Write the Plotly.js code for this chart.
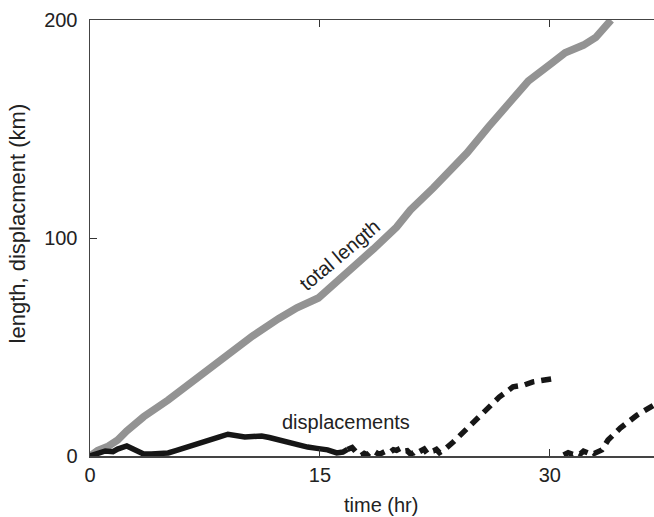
<!DOCTYPE html>
<html>
<head>
<meta charset="utf-8">
<script src="https://cdn.plot.ly/plotly-3.0.1.min.js"></script>
<style>html,body{margin:0;padding:0;background:#fff;}#chart{width:654px;height:517px;}</style>
</head>
<body>
<div id="chart"></div>
<script>
// total length (km) vs time (hr)
const lengthTime = [0, 0.5, 1.2, 1.8, 2.4, 3.5, 5.1, 7.0, 9.0, 10.6, 12.3, 13.5, 14.9, 15.8, 17.0, 18.5, 20.0, 20.9, 22.4, 23.5, 24.6, 26.0, 27.3, 28.6, 30.1, 31.0, 32.2, 33.0, 34.0];
const lengthKm   = [0, 2.5, 4.5, 7.3, 11.5, 18, 25.7, 36, 46, 55, 63, 68, 72.5, 78, 85, 95, 105, 112.8, 123, 131, 139, 151, 162, 172, 180, 185, 188.5, 192, 200];

// displacement (km) - solid part
const dispTimeA = [0, 0.5, 1.0, 1.5, 1.8, 2.4, 2.9, 3.5, 4.0, 4.5, 5.1, 5.6, 6.2, 6.8, 7.3, 7.8, 8.4, 9.0, 9.5, 10.1, 10.6, 11.2, 11.7, 12.3, 12.8, 13.4, 14.2, 14.8, 15.5, 16.1, 16.5, 16.8];
const dispKmA   = [0, 1.2, 2.3, 2.0, 3.2, 4.6, 2.8, 0.9, 0.9, 1.0, 1.4, 2.5, 3.7, 5.5, 6.4, 7.5, 8.7, 10, 9.3, 8.7, 8.9, 9.2, 8.5, 7.3, 6.4, 5.5, 4.1, 3.5, 2.8, 1.4, 1.8, 3.0];

// displacement (km) - dashed parts
const dispTimeB = [16.8, 17.1, 17.4, 17.7, 17.9, 18.1, 18.3, 18.5, 18.8, 19.0, 19.3, 19.6, 19.8, 20.0, 20.3, 20.5, 20.7, 20.9, 21.1, 21.3, 21.5, 21.8, 22.0, 22.1, 22.4, 22.6, 22.8, 23.1, 23.7, 24.8, 25.8, 26.7, 27.6, 28.3, 28.9, 29.6, 30.2, 30.5];
const dispKmB   = [3.0, 3.9, 1.5, 0.2, 1.2, 0.6, 1.9, 2.3, 1.0, 1.2, 2.2, 1.8, 2.9, 2.6, 3.7, 2.2, 2.4, 1.0, 1.4, 2.6, 2.0, 3.2, 1.2, 1.8, 2.3, 3.0, 1.5, 2.8, 6.4, 14.2, 21, 27, 31.7, 32.5, 34, 35, 35.8, 35.8];
const dispTimeC = [30.9, 31.2, 31.5, 31.8, 32.0, 32.2, 32.5, 32.7, 32.9, 33.1, 33.4, 33.8, 34.6, 35.7, 36.8];
const dispKmC   = [0.5, 1.5, 0.8, 1.8, 1.0, 2.2, 1.4, 2.3, 1.2, 1.8, 2.8, 7.3, 12.8, 18.8, 23.4];

const xTicks = [0, 15, 30];
const yTicks = [0, 100, 200];

const font = {family: 'Liberation Sans, Arial, sans-serif', size: 20, color: '#222'};
const yTitleFont = {family: 'Liberation Sans, Arial, sans-serif', size: 22, color: '#222'};

const traces = [
  {x: lengthTime, y: lengthKm, mode: 'lines', line: {color: '#939393', width: 7.5}, hoverinfo: 'skip'},
  {x: dispTimeA, y: dispKmA, mode: 'lines', line: {color: '#161616', width: 5.5}, hoverinfo: 'skip'},
  {x: dispTimeB, y: dispKmB, mode: 'lines', line: {color: '#161616', width: 5.5, dash: '10px,7px'}, hoverinfo: 'skip'},
  {x: dispTimeC, y: dispKmC, mode: 'lines', line: {color: '#161616', width: 5.5, dash: '10px,7px'}, hoverinfo: 'skip'}
];

const layout = {
  width: 654, height: 517,
  margin: {l: 90, r: 0, t: 20, b: 61},
  paper_bgcolor: '#fff', plot_bgcolor: '#fff',
  showlegend: false,
  font: font,
  xaxis: {
    range: [0, 36.8], tickvals: xTicks, ticktext: xTicks.map(String),
    ticks: 'inside', ticklen: 7, tickwidth: 1, tickcolor: '#333',
    showline: true, linecolor: '#444', linewidth: 1.5, mirror: 'ticks',
    showgrid: false, zeroline: false, tickfont: font
  },
  yaxis: {
    range: [0, 200], tickvals: yTicks, ticktext: yTicks.map(String),
    ticks: 'inside', ticklen: 7, tickwidth: 1, tickcolor: '#333',
    showline: true, linecolor: '#444', linewidth: 1.5, mirror: false,
    showgrid: false, zeroline: false, tickfont: font, ticklabelstandoff: 7
  },
  annotations: [
    {text: 'total length', x: 16.3, y: 92, xref: 'x', yref: 'y', showarrow: false, textangle: -40, font: font, xanchor: 'center', yanchor: 'middle'},
    {text: 'displacements', x: 16.7, y: 15.6, xref: 'x', yref: 'y', showarrow: false, font: font, xanchor: 'center', yanchor: 'middle'},
    {text: 'length, displacment (km)', xref: 'paper', yref: 'paper', x: -0.129, y: 0.534, showarrow: false, textangle: -90, font: yTitleFont, xanchor: 'center', yanchor: 'middle'},
    {text: 'time (hr)', xref: 'paper', yref: 'paper', x: 0.516, y: -0.112, showarrow: false, font: font, xanchor: 'center', yanchor: 'middle'}
  ]
};

Plotly.newPlot('chart', traces, layout, {staticPlot: true, displayModeBar: false});
</script>
</body>
</html>
